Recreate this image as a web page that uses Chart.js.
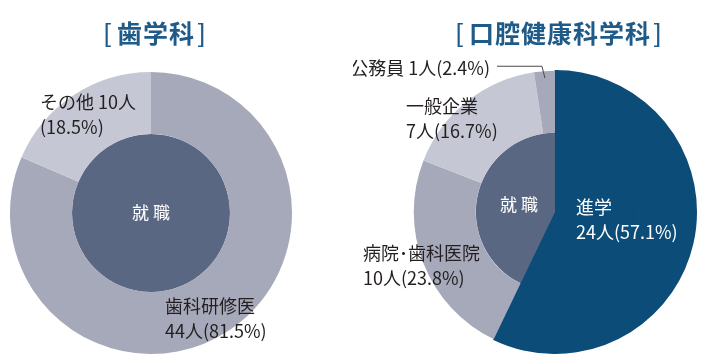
<!DOCTYPE html>
<html lang="ja">
<head>
<meta charset="utf-8">
<script src="https://cdn.jsdelivr.net/npm/chart.js@4"></script>
<style>
  html, body { margin: 0; padding: 0; background: #fff; }
  #wrap { position: relative; width: 706px; height: 361px; overflow: hidden; }
  .half { position: absolute; top: 0; width: 353px; height: 361px; }
  .title {
    position: absolute; top: 14px; font-family: "Noto Sans CJK JP", sans-serif;
    font-weight: bold; font-size: 25px; color: #1f5b88; white-space: nowrap;
    transform: translateX(-50%); line-height: 36px; letter-spacing: 1px;
  }
  .title .br { font-weight: 500; }
  .title .br.l { margin-right: 4px; }
  .title .br.r { margin-left: 2px; }
</style>
</head>
<body>
<div id="wrap">
  <div class="half" style="left:0"><canvas id="leftChart" width="353" height="361"></canvas></div>
  <div class="half" style="left:353px"><canvas id="rightChart" width="353" height="361"></canvas></div>
  <div class="title" style="left:155px"><span class="br l">[</span>歯学科<span class="br r">]</span></div>
  <div class="title" style="left:559px"><span class="br l">[</span>口腔健康科学科<span class="br r">]</span></div>
</div>
<script>
// ===== Data =====
const leftLabels = ["歯科研修医", "その他"];
const leftCounts = [44, 10];
const leftInnerLabel = "就職";

const rightLabels = ["進学", "病院･歯科医院", "一般企業", "公務員"];
const rightCounts = [24, 10, 7, 1];
const rightInnerLabels = ["進学", "就職"];

// ===== Colours =====
const BLUE = "#0b4c78";
const SLATE = "#5a6782";
const MID = "#a6a9b9";
const LIGHT = "#c5c7d4";
const FONT = '"Noto Sans CJK JP", sans-serif';

const sum = a => a.reduce((s, v) => s + v, 0);
const pct = (v, t) => (v / t * 100).toFixed(1) + "%";

// ===== Label plugin: draws text relative to the doughnut centre =====
const sliceLabels = {
  id: "sliceLabels",
  afterDraw(chart, args, opts) {
    const ctx = chart.ctx;
    const arc = chart.getDatasetMeta(0).data[0];
    const cx = arc.x, cy = arc.y;
    ctx.save();
    opts.items.forEach(it => {
      ctx.font = (it.size || 18) + "px " + FONT;
      ctx.fillStyle = it.color || "#231f20";
      ctx.textAlign = it.align || "left";
      ctx.textBaseline = "middle";
      it.lines.forEach((ln, i) => ctx.fillText(ln, cx + it.dx, cy + it.dy + i * 25));
    });
    // leader line to the small slice
    if (opts.leader) {
      const L = opts.leader;
      const a = chart.getDatasetMeta(0).data[L.index];
      const mid = (a.startAngle + a.endAngle) / 2;
      const r = a.outerRadius - 7;
      const px = cx + Math.cos(mid) * r, py = cy + Math.sin(mid) * r;
      const ly = cy - a.outerRadius - 5;
      ctx.strokeStyle = "#4a4a4a";
      ctx.lineWidth = 1;
      ctx.beginPath();
      ctx.moveTo(cx + L.fromDx, ly + 0.5);
      ctx.lineTo(px - 3, ly + 0.5);
      ctx.lineTo(px, py);
      ctx.stroke();
    }
    ctx.restore();
  }
};

const baseOptions = (padding, labelOpts) => ({
  responsive: false,
  animation: false,
  layout: { padding },
  cutout: 0,
  plugins: { legend: { display: false }, tooltip: { enabled: false }, sliceLabels: labelOpts },
  events: []
});

// ===== Left chart =====
const leftTotal = sum(leftCounts);
new Chart(document.getElementById("leftChart"), {
  type: "doughnut",
  data: {
    labels: leftLabels,
    datasets: [
      { data: leftCounts, backgroundColor: [MID, LIGHT], borderWidth: 0, weight: 62 },
      { data: [leftTotal], backgroundColor: [SLATE], borderWidth: 0, weight: 79 }
    ]
  },
  options: baseOptions({ left: 10, right: 61, top: 72, bottom: 7 }, {
    items: [
      { lines: [leftLabels[1] + " " + leftCounts[1] + "人", "(" + pct(leftCounts[1], leftTotal) + ")"], dx: -111, dy: -111 },
      { lines: [leftLabels[0], leftCounts[0] + "人(" + pct(leftCounts[0], leftTotal) + ")"], dx: 14, dy: 93 },
      { lines: [leftInnerLabel.split("").join(" ")], dx: 0, dy: 0, align: "center", color: "#ffffff", size: 17 }
    ]
  }),
  plugins: [sliceLabels]
});

// ===== Right chart =====
const rightTotal = sum(rightCounts);
new Chart(document.getElementById("rightChart"), {
  type: "doughnut",
  data: {
    labels: rightLabels,
    datasets: [
      {
        data: rightCounts, backgroundColor: [BLUE, MID, LIGHT, MID],
        borderColor: [BLUE, MID, LIGHT, MID], borderWidth: [1.5, 0, 0, 0], weight: 62
      },
      {
        data: [rightCounts[0], rightTotal - rightCounts[0]], backgroundColor: [BLUE, SLATE],
        borderColor: [BLUE, SLATE], borderWidth: [1.5, 0], weight: 79
      }
    ]
  },
  options: baseOptions({ left: 60, right: 9, top: 70, bottom: 7 }, {
    items: [
      { lines: [rightLabels[3] + " " + rightCounts[3] + "人(" + pct(rightCounts[3], rightTotal) + ")"], dx: -65, dy: -144, align: "right" },
      { lines: [rightLabels[2], rightCounts[2] + "人(" + pct(rightCounts[2], rightTotal) + ")"], dx: -149, dy: -106 },
      { lines: [rightInnerLabels[1].split("").join(" ")], dx: -36, dy: -7, align: "center", color: "#ffffff", size: 17 },
      { lines: [rightLabels[0], rightCounts[0] + "人(" + pct(rightCounts[0], rightTotal) + ")"], dx: 21, dy: -5, color: "#ffffff" },
      { lines: [rightLabels[1], rightCounts[1] + "人(" + pct(rightCounts[1], rightTotal) + ")"], dx: -192, dy: 41 }
    ],
    leader: { index: 3, fromDx: -58 }
  }),
  plugins: [sliceLabels]
});
</script>
</body>
</html>
